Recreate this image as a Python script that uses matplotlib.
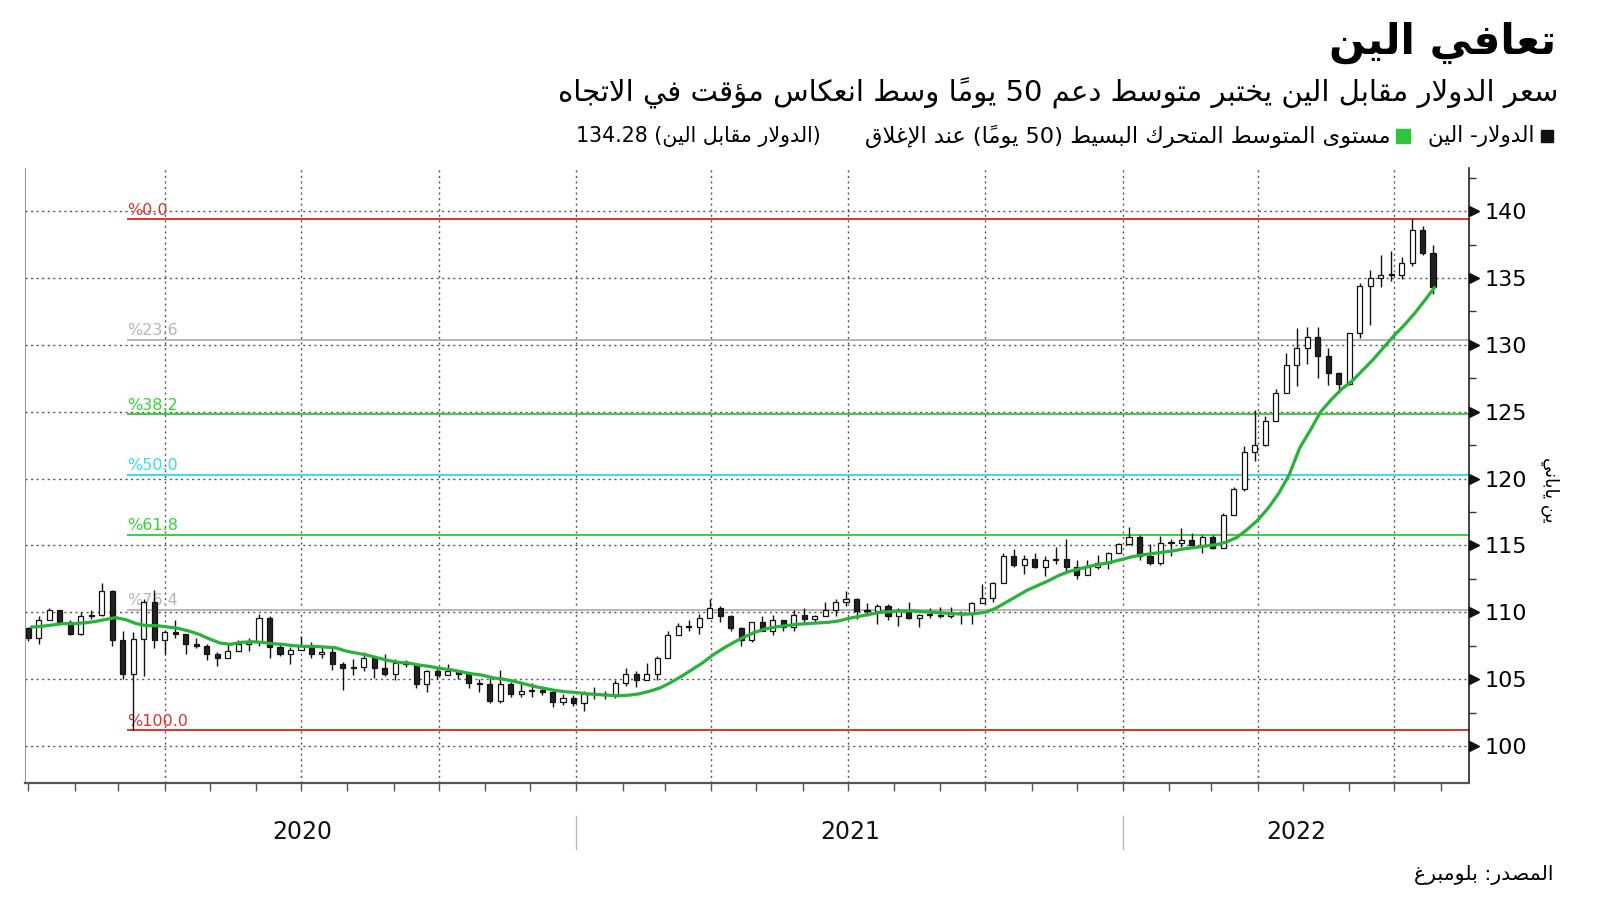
import re
import pandas as pd
import matplotlib
matplotlib.use("Agg")
import matplotlib.pyplot as plt
import matplotlib.dates as mdates
import matplotlib.transforms as mtransforms
from matplotlib.patches import Rectangle

plt.rcParams['font.family'] = ['DejaVu Sans']

# weekly USD/JPY candles, weeks ending on Friday (last week ends Jul 28 2022)
week_end = pd.date_range("2020-01-03", "2022-07-29", freq="W-FRI")

opens = [
    # 2020
    108.85, 108.1, 109.45, 110.15, 109.3, 108.35, 109.75, 109.8, 111.6, 107.9,
    105.4, 108.0, 110.8, 107.9, 108.5, 108.4, 107.6, 107.5, 106.9, 106.6,
    107.1, 107.6, 107.8, 109.6, 107.4, 106.9, 107.2, 107.5, 106.9, 107.0,
    106.1, 105.8, 105.9, 106.6, 105.8, 105.4, 106.2, 106.1, 104.6, 105.6,
    105.3, 105.6, 105.4, 104.7, 104.6, 103.4, 104.6, 103.9, 104.1, 104.2,
    104.0, 103.3,
    # 2021
    103.6, 103.2, 103.9, 103.9, 103.8, 104.7, 105.4, 104.9, 105.4, 106.6,
    108.3, 109.0, 108.9, 109.6, 110.3, 109.7, 108.8, 107.9, 109.3, 108.6,
    109.4, 108.9, 109.8, 109.5, 109.7, 110.2, 110.8, 111.0, 110.1, 110.1,
    110.5, 109.7, 110.2, 109.6, 109.8, 109.8, 109.7, 109.9, 109.9, 110.7,
    111.1, 112.2, 114.2, 113.5, 114.0, 113.4, 113.9, 114.0, 113.4, 112.8,
    113.4, 113.7, 114.4,
    # 2022
    115.1, 115.6, 114.2, 113.7, 115.2, 115.2, 115.4, 115.0, 115.6, 114.8,
    117.3, 119.2, 122.0, 122.5, 124.3, 126.4, 128.5, 129.8, 130.6, 129.2,
    127.9, 127.1, 130.9, 134.4, 135.0, 135.2, 135.2, 136.1, 138.6, 136.9,
]
highs = [
    108.9, 109.7, 110.3, 110.2, 109.45, 110.0, 110.15, 112.2, 111.7, 108.6,
    108.5, 111.0, 111.7, 108.7, 109.4, 108.4, 108.1, 107.6, 107.0, 107.7,
    107.9, 108.1, 109.9, 109.7, 107.6, 107.4, 108.2, 107.8, 107.4, 107.4,
    106.3, 106.5, 107.05, 106.7, 106.9, 106.5, 106.4, 106.1, 105.7, 105.8,
    106.1, 105.7, 105.5, 105.0, 105.1, 105.7, 104.8, 104.8, 104.7, 104.5,
    104.2, 103.9,
    103.8, 104.1, 104.4, 104.1, 104.9, 105.8, 105.6, 106.2, 106.7, 108.6,
    109.2, 109.4, 109.9, 110.97, 110.5, 109.8, 108.9, 109.3, 109.7, 109.8,
    109.4, 110.2, 110.3, 109.8, 110.8, 111.0, 111.6, 111.1, 110.7, 110.6,
    110.6, 110.3, 110.8, 109.9, 110.3, 110.4, 110.4, 110.1, 110.8, 112.1,
    112.3, 114.4, 114.7, 114.3, 114.4, 114.2, 114.9, 115.5, 113.9, 113.9,
    114.3, 114.5, 115.2,
    116.35, 115.8, 115.1, 115.7, 115.5, 116.3, 115.9, 115.8, 115.8, 117.4,
    119.4, 122.4, 125.1, 124.7, 126.7, 129.4, 131.25, 131.3, 131.3, 129.8,
    128.0, 130.9, 134.6, 135.6, 136.7, 137.0, 136.6, 139.4, 138.9, 137.5,
]
lows = [
    107.85, 107.65, 109.4, 109.2, 108.3, 108.3, 109.5, 109.7, 107.5, 105.0,
    101.2, 105.2, 107.3, 106.9, 108.1, 106.9, 107.3, 106.4, 106.0, 106.6,
    107.1, 107.1, 107.5, 106.6, 106.7, 106.1, 107.2, 106.6, 106.6, 105.7,
    104.2, 105.3, 105.6, 105.1, 105.2, 104.9, 105.9, 104.3, 104.0, 105.0,
    105.3, 105.0, 104.3, 104.0, 103.2, 103.2, 103.7, 103.7, 103.7, 103.8,
    102.9, 103.1,
    103.0, 102.6, 103.5, 103.5, 103.6, 104.5, 104.4, 104.9, 104.9, 106.6,
    108.3, 108.6, 108.4, 109.6, 109.3, 108.6, 107.5, 107.8, 108.6, 108.3,
    108.6, 108.6, 109.3, 109.2, 109.7, 109.7, 110.5, 109.5, 109.7, 109.1,
    109.4, 109.0, 109.5, 108.9, 109.6, 109.6, 109.6, 109.1, 109.1, 110.7,
    110.8, 112.2, 113.4, 112.9, 113.3, 112.7, 113.6, 113.1, 112.5, 112.8,
    113.2, 113.2, 114.4,
    115.0, 113.9, 113.5, 113.5, 114.2, 114.9, 114.8, 114.4, 114.7, 114.8,
    117.3, 119.1, 121.3, 122.4, 124.3, 126.4, 126.9, 128.6, 127.5, 127.0,
    126.4, 127.0, 130.5, 131.5, 134.3, 134.8, 134.9, 135.9, 136.7, 133.8,
]
closes = [
    108.1, 109.45, 110.15, 109.3, 108.35, 109.75, 109.8, 111.6, 107.9, 105.4,
    108.0, 110.8, 107.9, 108.5, 108.4, 107.6, 107.5, 106.9, 106.6, 107.1,
    107.6, 107.8, 109.6, 107.4, 106.9, 107.2, 107.5, 106.9, 107.0, 106.1,
    105.8, 105.9, 106.6, 105.8, 105.4, 106.2, 106.1, 104.6, 105.6, 105.3,
    105.6, 105.4, 104.7, 104.6, 103.4, 104.6, 103.9, 104.1, 104.2, 104.0,
    103.3, 103.6,
    103.2, 103.9, 103.9, 103.8, 104.7, 105.4, 104.9, 105.4, 106.6, 108.3,
    109.0, 108.9, 109.6, 110.3, 109.7, 108.8, 107.9, 109.3, 108.6, 109.4,
    108.9, 109.8, 109.5, 109.7, 110.2, 110.8, 111.0, 110.1, 110.1, 110.5,
    109.7, 110.2, 109.6, 109.8, 109.8, 109.7, 109.9, 109.9, 110.7, 111.1,
    112.2, 114.2, 113.5, 114.0, 113.4, 113.9, 114.0, 113.4, 112.8, 113.4,
    113.7, 114.4, 115.1,
    115.6, 114.2, 113.7, 115.2, 115.2, 115.4, 115.0, 115.6, 114.8, 117.3,
    119.2, 122.0, 122.5, 124.3, 126.4, 128.5, 129.8, 130.6, 129.2, 127.9,
    127.1, 130.9, 134.4, 135.0, 135.2, 135.2, 136.1, 138.6, 136.9, 134.3,
]
# 50-day simple moving average, read at each week end
sma50 = [
    108.9, 108.95, 109.05, 109.15, 109.15, 109.2, 109.3, 109.45, 109.6, 109.45,
    109.15, 109.0, 109.0, 108.9, 108.8, 108.6, 108.35, 108.0, 107.7, 107.6,
    107.75, 107.8, 107.75, 107.65, 107.6, 107.5, 107.45, 107.45, 107.4, 107.35,
    107.1, 106.95, 106.8, 106.6, 106.4, 106.25, 106.2, 106.05, 105.95, 105.8,
    105.7, 105.55, 105.4, 105.3, 105.1, 105.0, 104.85, 104.65, 104.45, 104.3,
    104.15, 104.05,
    104.0, 103.9, 103.85, 103.8, 103.75, 103.8, 103.9, 104.1, 104.35, 104.75,
    105.2, 105.7, 106.2, 106.8, 107.3, 107.75, 108.15, 108.5, 108.75, 108.9,
    109.0, 109.1, 109.15, 109.2, 109.25, 109.35, 109.55, 109.7, 109.85, 110.0,
    110.05, 110.1, 110.1, 110.05, 110.0, 109.95, 109.9, 109.85, 109.9, 110.0,
    110.3, 110.75, 111.2, 111.65, 112.0, 112.35, 112.75, 113.05, 113.25, 113.45,
    113.6, 113.75, 113.95,
    114.15, 114.3, 114.4, 114.5, 114.6, 114.75, 114.85, 114.95, 115.05, 115.25,
    115.6, 116.2, 116.9, 117.8, 118.9, 120.3, 122.3, 123.6, 125.0, 125.9,
    126.7, 127.3, 128.1, 128.9, 129.8, 130.7, 131.5, 132.4, 133.4, 134.3,
]
last_day = pd.Timestamp("2022-07-28")

# Fibonacci retracement between the March 2020 low and July 2022 high
fib_low, fib_high = 101.18, 139.39
fib_start = pd.Timestamp("2020-03-07")
fib_pcts = [0.0, 23.6, 38.2, 50.0, 61.8, 76.4, 100.0]
fib_colors = ['#e3312c', '#b5b5b5', '#35d435', '#35dfee', '#35d435', '#b5b5b5', '#e3312c']

years = ['2020', '2021', '2022']
y_ticks = [100, 105, 110, 115, 120, 125, 130, 135, 140]

title = "تعافي الين"
subtitle = "سعر الدولار مقابل الين يختبر متوسط دعم 50 يوماً وسط انعكاس مؤقت في الاتجاه"
leg_price = "الدولار- الين"
leg_sma = "مستوى المتوسط المتحرك البسيط (50 يوماً) عند الإغلاق"
leg_last = "(الدولار مقابل الين) 134.28"
y_label = "ين ياباني"
source = "المصدر: بلومبرغ"

# --- small arabic shaper (matplotlib has no text shaping) ---
AR = {'ء': (0xFE80, 1), 'آ': (0xFE81, 2), 'أ': (0xFE83, 2), 'ؤ': (0xFE85, 2),
      'إ': (0xFE87, 2), 'ئ': (0xFE89, 4), 'ا': (0xFE8D, 2), 'ب': (0xFE8F, 4),
      'ة': (0xFE93, 2), 'ت': (0xFE95, 4), 'ث': (0xFE99, 4), 'ج': (0xFE9D, 4),
      'ح': (0xFEA1, 4), 'خ': (0xFEA5, 4), 'د': (0xFEA9, 2), 'ذ': (0xFEAB, 2),
      'ر': (0xFEAD, 2), 'ز': (0xFEAF, 2), 'س': (0xFEB1, 4), 'ش': (0xFEB5, 4),
      'ص': (0xFEB9, 4), 'ض': (0xFEBD, 4), 'ط': (0xFEC1, 4), 'ظ': (0xFEC5, 4),
      'ع': (0xFEC9, 4), 'غ': (0xFECD, 4), 'ف': (0xFED1, 4), 'ق': (0xFED5, 4),
      'ك': (0xFED9, 4), 'ل': (0xFEDD, 4), 'م': (0xFEE1, 4), 'ن': (0xFEE5, 4),
      'ه': (0xFEE9, 4), 'و': (0xFEED, 2), 'ى': (0xFEEF, 2), 'ي': (0xFEF1, 4)}
LAM_ALEF = {'آ': 0xFEF5, 'أ': 0xFEF7, 'إ': 0xFEF9, 'ا': 0xFEFB}
MARKS = set('\u064B\u064C\u064D\u064E\u064F\u0650\u0651\u0652')


def ar(text):
    toks = []
    i = 0
    while i < len(text):
        if text[i] == 'ل' and i + 1 < len(text) and text[i + 1] in LAM_ALEF:
            toks.append(('LA', text[i + 1]))
            i += 2
        else:
            toks.append((text[i], None))
            i += 1
    base = [k for k, t in enumerate(toks) if t[0] not in MARKS]

    def joins_prev(c):
        return c == 'LA' or (c in AR and AR[c][1] > 1)

    def joins_next(c):
        return c in AR and AR[c][1] == 4

    out = []
    for k, (c, alef) in enumerate(toks):
        if c in MARKS:
            out.append(c)
            continue
        p = base.index(k)
        prev = toks[base[p - 1]][0] if p > 0 else None
        nxt = toks[base[p + 1]][0] if p + 1 < len(base) else None
        cp = prev is not None and joins_next(prev) and joins_prev(c)
        cn = nxt is not None and joins_next(c) and joins_prev(nxt)
        if c == 'LA':
            out.append(chr(LAM_ALEF[alef] + (1 if cp else 0)))
        elif c in AR:
            start, n = AR[c]
            if n == 1:
                out.append(chr(start))
            elif n == 2:
                out.append(chr(start + (1 if cp else 0)))
            else:
                off = 3 if (cp and cn) else 1 if cp else 2 if cn else 0
                out.append(chr(start + off))
        else:
            out.append(c)
    clusters = []
    for g in out:
        if g in MARKS and clusters:
            clusters[-1] += g
        else:
            clusters.append(g)
    s = ''.join(clusters[::-1])
    s = re.sub(r'[0-9][0-9.]*[0-9]|[0-9]', lambda m: m.group(0)[::-1], s)
    return s.translate(str.maketrans('()', ')('))


fig = plt.figure(figsize=(16, 9.01), dpi=100)
ax = fig.add_axes([0.0159, 0.1314, 0.9022, 0.6817])

x_left, x_right = pd.Timestamp("2019-12-30"), pd.Timestamp("2022-08-20")
ax.set_xlim(x_left, x_right)
ax.set_ylim(97.26, 143.2)

# grid
grid_style = dict(color='#555555', lw=1, linestyle=(0, (1.5, 2.5)), zorder=0)
for y in y_ticks:
    ax.axhline(y, **grid_style)
for d in pd.date_range("2020-04-01", "2022-07-01", freq="QS"):
    ax.axvline(d, **grid_style)

# fibonacci levels
for pct, col in zip(fib_pcts, fib_colors):
    lvl = fib_high - pct / 100 * (fib_high - fib_low)
    ax.hlines(lvl, fib_start, x_right, color=col, lw=1.4, zorder=1)
    ax.text(fib_start, lvl + 0.12, "%" + f"{pct:.1f}", color=col, fontsize=11.5,
            ha='left', va='bottom', zorder=1)

# candles
centers = week_end - pd.Timedelta(days=2)
up = [c >= o for o, c in zip(opens, closes)]
ax.vlines(centers, lows, highs, color='#111111', lw=1, zorder=3)
body_lo = [min(o, c) for o, c in zip(opens, closes)]
body_h = [max(abs(c - o), 0.08) for o, c in zip(opens, closes)]
ax.bar(centers, body_h, bottom=body_lo, width=3.4,
       color=['white' if u else '#222222' for u in up],
       edgecolor='#111111', linewidth=0.9, zorder=4)

# 50-day SMA
sma_dates = week_end.where(week_end <= last_day, last_day)
ax.plot(sma_dates, sma50, color='#27b23a', lw=2.3, zorder=5, solid_capstyle='round')

# axes styling
ax.spines['top'].set_visible(False)
ax.spines['left'].set_color('#9a9a9a')
ax.spines['bottom'].set_color('#555555')
ax.spines['bottom'].set_linewidth(1.6)
ax.spines['right'].set_color('#222222')
ax.spines['right'].set_linewidth(1.2)

ax.yaxis.tick_right()
ax.set_yticks(y_ticks)
ax.set_yticklabels([str(v) for v in y_ticks])
ax.set_yticks([v + 2.5 for v in [97.5] + y_ticks], minor=True)
ax.tick_params(axis='y', which='major', length=0, pad=11, labelsize=16)
ax.tick_params(axis='y', which='minor', length=5, width=1, color='#333333', direction='out')
tri = mtransforms.offset_copy(mtransforms.blended_transform_factory(ax.transAxes, ax.transData),
                              fig=fig, x=3.5, units='points')
ax.plot([1.0] * len(y_ticks), y_ticks, ls='none', marker='>', ms=6.5, color='#111111',
        transform=tri, clip_on=False, zorder=6)

ax.xaxis.set_major_locator(mdates.MonthLocator())
ax.tick_params(axis='x', which='major', length=6, width=1, color='#555555',
               direction='out', labelbottom=False)

# year labels and separators
xy_blend = mtransforms.blended_transform_factory(ax.transData, ax.transAxes)
for yr in years:
    a = max(pd.Timestamp(f"{yr}-01-01"), x_left)
    b = min(pd.Timestamp(f"{int(yr) + 1}-01-01"), x_right)
    ax.text(a + (b - a) / 2, -0.0804, yr, transform=xy_blend, ha='center', va='center',
            fontsize=17, color='#111111')
for yr in years[1:]:
    d = pd.Timestamp(f"{yr}-01-01")
    ax.plot([d, d], [-0.054, -0.108], transform=xy_blend, color='#bbbbbb', lw=1, clip_on=False)

# texts
fig.text(0.9725, 0.952, ar(title), ha='right', va='center', fontsize=30.5, fontweight='bold')
fig.text(0.974, 0.896, ar(subtitle), ha='right', va='center', fontsize=21)

fig.patches.append(Rectangle((0.963, 0.8424), 0.0075, 0.0133, transform=fig.transFigure,
                             color='#111111'))
fig.text(0.959, 0.849, ar(leg_price), ha='right', va='center', fontsize=15.5)
fig.patches.append(Rectangle((0.8725, 0.8416), 0.00875, 0.0155, transform=fig.transFigure,
                             color='#2ec43c'))
fig.text(0.869, 0.849, ar(leg_sma), ha='right', va='center', fontsize=16.2)
fig.text(0.513, 0.849, ar(leg_last), ha='right', va='center', fontsize=14.8)

fig.text(0.969, 0.456, ar(y_label), ha='center', va='center', fontsize=13, rotation=270)
fig.text(0.971, 0.029, ar(source), ha='right', va='center', fontsize=14.7)

fig.savefig("out.png", dpi=100)
